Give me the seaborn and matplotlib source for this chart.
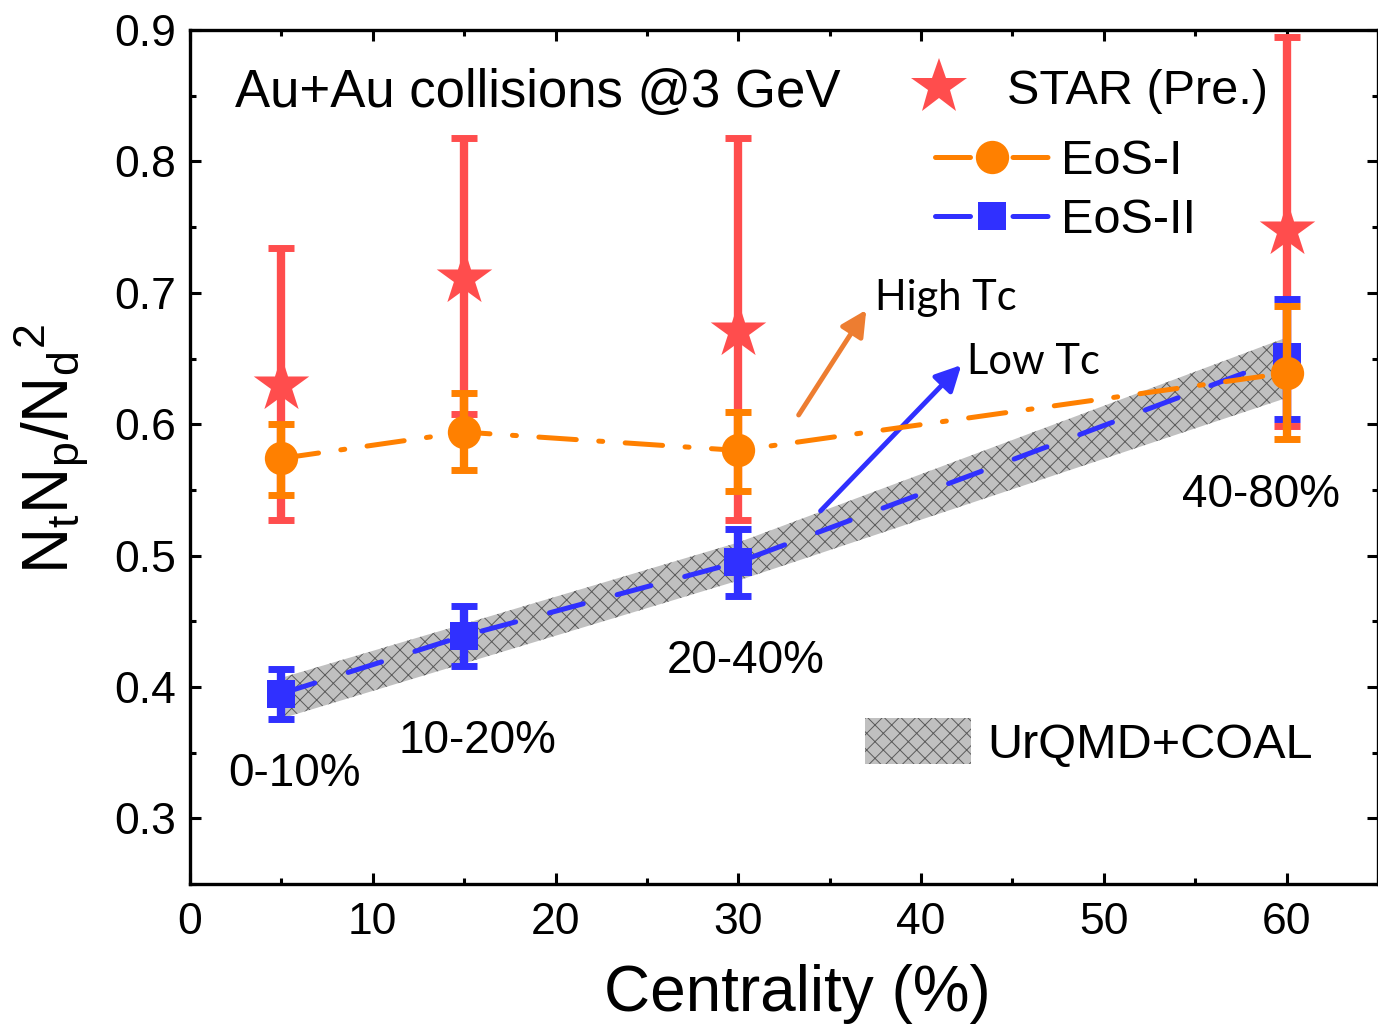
import numpy as np
import pandas as pd
import matplotlib
matplotlib.use("Agg")
import matplotlib.pyplot as plt
import seaborn as sns
from matplotlib.lines import Line2D
from matplotlib.patches import Patch
from matplotlib.ticker import MultipleLocator

# ---------------- data ----------------
centrality = [5, 15, 30, 60]
bin_labels = ["0-10%", "10-20%", "20-40%", "40-80%"]
bin_label_x = [5.7, 15.7, 30.4, 58.6]
bin_label_y = [0.334, 0.359, 0.420, 0.546]

star_val = [0.630, 0.711, 0.671, 0.748]
star_err_lo = [0.103, 0.103, 0.144, 0.149]
star_err_hi = [0.104, 0.107, 0.147, 0.147]

eos1_val = [0.574, 0.594, 0.580, 0.639]
eos1_err_lo = [0.028, 0.029, 0.031, 0.050]
eos1_err_hi = [0.026, 0.030, 0.029, 0.051]

eos2_val = [0.395, 0.439, 0.495, 0.651]
eos2_err_lo = [0.019, 0.023, 0.026, 0.047]
eos2_err_hi = [0.019, 0.023, 0.025, 0.044]

band_x = [5, 15, 30, 60]
band_lo = [0.376, 0.418, 0.481, 0.620]
band_hi = [0.407, 0.448, 0.510, 0.666]

# ---------------- style ----------------
sns.set_theme(style="ticks")
plt.rcParams["font.family"] = ["Liberation Sans", "DejaVu Sans"]
plt.rcParams["mathtext.fontset"] = "custom"
plt.rcParams["mathtext.rm"] = "Liberation Sans"
plt.rcParams["mathtext.it"] = "Liberation Sans:italic"
plt.rcParams["mathtext.default"] = "regular"
plt.rcParams["hatch.linewidth"] = 0.7
for key in ["text.color", "axes.labelcolor", "xtick.color", "ytick.color",
            "xtick.labelcolor", "ytick.labelcolor", "axes.edgecolor"]:
    plt.rcParams[key] = "black"

RED = "#ff4d4d"
ORANGE = "#ff8000"
BLUE = "#3030ff"
BAND_FACE = "#c0c0c0"
BAND_HATCH = "#5a5a5a"

fig = plt.figure(figsize=(13.78, 10.28), dpi=100)
ax = fig.add_axes([0.1379, 0.140, 0.8621, 0.8308])

# band
ax.fill_between(band_x, band_lo, band_hi, facecolor=BAND_FACE,
                edgecolor=BAND_HATCH, hatch="xx", linewidth=0, zorder=1)

# STAR
ax.errorbar(centrality, star_val, yerr=[star_err_lo, star_err_hi], fmt="none",
            ecolor=RED, elinewidth=6, capsize=9.5, capthick=5, zorder=2)
df_star = pd.DataFrame({"c": centrality, "v": star_val})
sns.scatterplot(data=df_star, x="c", y="v", ax=ax, marker="*", s=42**2,
                color=RED, linewidth=0, zorder=3)

# EoS-II
ax.errorbar(centrality, eos2_val, yerr=[eos2_err_lo, eos2_err_hi], fmt="none",
            ecolor=BLUE, elinewidth=6, capsize=9.5, capthick=5, zorder=4)
df2 = pd.DataFrame({"c": centrality, "v": eos2_val})
sns.lineplot(data=df2, x="c", y="v", ax=ax, color=BLUE, linewidth=3.6,
             marker="s", markersize=20, markeredgewidth=0, zorder=5)
l2 = ax.lines[-1]
l2.set_dashes((7, 7))
l2.set_dash_capstyle("round")

# EoS-I
ax.errorbar(centrality, eos1_val, yerr=[eos1_err_lo, eos1_err_hi], fmt="none",
            ecolor=ORANGE, elinewidth=6, capsize=9.5, capthick=5, zorder=6)
df1 = pd.DataFrame({"c": centrality, "v": eos1_val})
sns.lineplot(data=df1, x="c", y="v", ax=ax, color=ORANGE, linewidth=3.6,
             marker="o", markersize=24, markeredgewidth=0, zorder=7)
l1 = ax.lines[-1]
l1.set_dashes((7.5, 4.5, 0.8, 4.5))
l1.set_dash_capstyle("round")

# axes
ax.set_xlim(0, 65)
ax.set_ylim(0.25, 0.9)
ax.set_xticks([0, 10, 20, 30, 40, 50, 60])
ax.set_yticks([0.3, 0.4, 0.5, 0.6, 0.7, 0.8, 0.9])
ax.set_yticklabels(["0.3", "0.4", "0.5", "0.6", "0.7", "0.8", "0.9"])
ax.xaxis.set_minor_locator(MultipleLocator(5))
ax.yaxis.set_minor_locator(MultipleLocator(0.05))
ax.tick_params(which="both", direction="in", top=True, right=True, width=2.2,
               color="black", labelcolor="black")
ax.tick_params(which="major", length=8, labelsize=32)
ax.tick_params(axis="x", which="major", pad=13)
ax.tick_params(axis="y", which="major", pad=10)
ax.tick_params(which="minor", length=4)
for s in ax.spines.values():
    s.set_linewidth(2.4)
    s.set_color("black")

ax.set_xlabel("Centrality (%)", fontsize=46, color="black")
ax.set_ylabel(r"N$_t$N$_p$/N$_d$$^2$", fontsize=46, color="black")
ax.xaxis.set_label_coords(0.511, -0.094)
ax.yaxis.set_label_coords(-0.083, 0.51)

# texts
ax.text(2.46, 0.852, "Au+Au collisions @3 GeV", fontsize=38, ha="left",
        va="center", color="black")
for lx, ly, lab in zip(bin_label_x, bin_label_y, bin_labels):
    ax.text(lx, ly, lab, fontsize=33, ha="center", va="center", color="black")

# arrows
ax.annotate("", xy=(37.0, 0.687), xytext=(33.3, 0.607),
            arrowprops=dict(arrowstyle="-|>,head_length=0.55,head_width=0.28",
                            color="#ed7d31", lw=3.5, shrinkA=0, shrinkB=0,
                            mutation_scale=28))
ax.annotate("", xy=(42.2, 0.645), xytext=(34.5, 0.534),
            arrowprops=dict(arrowstyle="-|>,head_length=0.55,head_width=0.28",
                            color=BLUE, lw=3.5, shrinkA=0, shrinkB=0,
                            mutation_scale=28))
ax.text(37.5, 0.696, "High Tc", fontsize=30, family=["Lato", "DejaVu Sans"],
        ha="left", va="center", color="black")
ax.text(42.5, 0.647, "Low Tc", fontsize=30, family=["Lato", "DejaVu Sans"],
        ha="left", va="center", color="black")

# legends
leg1 = ax.legend(handles=[Line2D([], [], marker="*", ls="none", color=RED,
                                 markersize=42, markeredgewidth=0)],
                 labels=["STAR (Pre.)"], loc="center left",
                 bbox_to_anchor=(905 / 1378, 1 - 92 / 1028),
                 bbox_transform=fig.transFigure, frameon=False, fontsize=35,
                 handlelength=1.4, handletextpad=0.7, borderpad=0,
                 borderaxespad=0, labelcolor="black")
ax.add_artist(leg1)

h_e1 = Line2D([], [], color=ORANGE, lw=3.6, marker="o", markersize=24,
              markeredgewidth=0, dashes=(7, 8.5), dash_capstyle="round")
h_e2 = Line2D([], [], color=BLUE, lw=3.6, marker="s", markersize=20,
              markeredgewidth=0, dashes=(7, 8.5), dash_capstyle="round")
leg2 = ax.legend(handles=[h_e1, h_e2], labels=["EoS-I", "EoS-II"],
                 loc="center left", bbox_to_anchor=(935 / 1378, 1 - 191 / 1028),
                 bbox_transform=fig.transFigure, frameon=False, fontsize=35,
                 handlelength=2.35, handletextpad=0.25, labelspacing=0.3,
                 borderpad=0, borderaxespad=0, labelcolor="black")
ax.add_artist(leg2)

h_band = Patch(facecolor=BAND_FACE, edgecolor=BAND_HATCH, hatch="xx",
               linewidth=0)
leg3 = ax.legend(handles=[h_band], labels=["UrQMD+COAL"], loc="center left",
                 bbox_to_anchor=(865 / 1378, 1 - 743 / 1028),
                 bbox_transform=fig.transFigure, frameon=False, fontsize=35,
                 handlelength=2.18, handleheight=1.08, handletextpad=0.33,
                 borderpad=0, borderaxespad=0, labelcolor="black")

fig.savefig("out.png", dpi=100)
